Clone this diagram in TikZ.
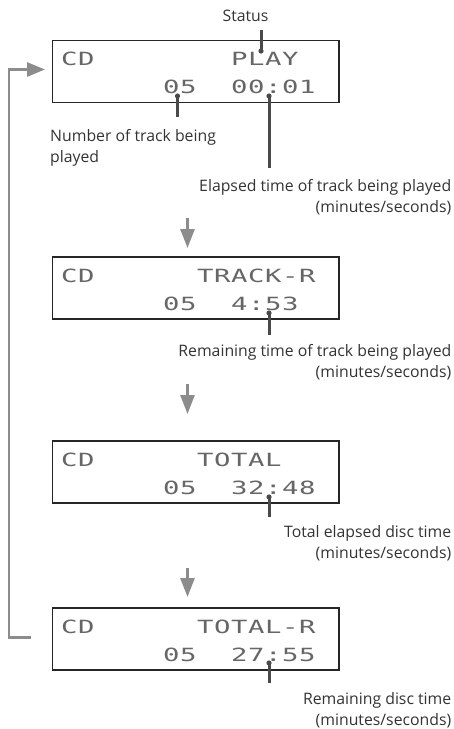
\documentclass[tikz,border=0pt]{standalone}
\usepackage{fontspec}
\usepackage{tikz}
\setmainfont{Open Sans}
\newfontfamily\lcdfont[FakeStretch=1.5]{DejaVu Sans Mono}
\usetikzlibrary{arrows.meta}

\definecolor{arrowgray}{HTML}{8C8C8C}
\definecolor{leadgray}{HTML}{4A4A4A}
\definecolor{lcdink}{HTML}{666666}

% one character per 17pt cell, like the dot matrix of the display
\makeatletter
\newcommand\lcdtext[1]{\@tfor\lcdch:=#1\do{\makebox[17pt][l]{\lcdch}}}
\makeatother

\begin{document}
\begin{tikzpicture}[x=1pt, y=-1pt,
    display/.style={draw=black!85, line width=1.3pt, minimum width=286.5pt, minimum height=62pt, inner sep=0pt},
    lcdrow/.style={anchor=base west, inner sep=0pt, font=\lcdfont\fontsize{18.2}{18.2}\selectfont, text=lcdink},
    note/.style={inner sep=0pt, font=\fontsize{15.8}{18}\selectfont, text=black!80},
    lead/.style={draw=leadgray, line width=3pt},
    leaddot/.style={fill=leadgray},
    flow/.style={draw=arrowgray, line width=2.7pt, -{Triangle[length=19pt,width=14pt]}},
    backarrow/.style={draw=arrowgray, line width=2.7pt, -{Triangle[length=18pt,width=14pt]}}
]
\useasboundingbox (0,0) rectangle (454,729);

% displays
\node[display] (d1) at (195.75,71.25) {};
\node[lcdrow] (d1cd) at (61,65.25) {\lcdtext{CD}};
\node[lcdrow] (d1st) at (231,65.25) {\lcdtext{PLAY}};
\node[lcdrow] (d1tr) at (163,93.25) {\lcdtext{05}};
\node[lcdrow] (d1tm) at (231,93.25) {\lcdtext{00:01}};

\node[display] (d2) at (195.75,288) {};
\node[lcdrow] (d2cd) at (61,282) {\lcdtext{CD}};
\node[lcdrow] (d2st) at (197,282) {\lcdtext{TRACK-R}};
\node[lcdrow] (d2tr) at (163,310) {\lcdtext{05}};
\node[lcdrow] (d2tm) at (231,310) {\lcdtext{4:53}};

\node[display] (d3) at (195.75,472) {};
\node[lcdrow] (d3cd) at (61,466) {\lcdtext{CD}};
\node[lcdrow] (d3st) at (197,466) {\lcdtext{TOTAL}};
\node[lcdrow] (d3tr) at (163,494) {\lcdtext{05}};
\node[lcdrow] (d3tm) at (231,494) {\lcdtext{32:48}};

\node[display] (d4) at (195.75,639) {};
\node[lcdrow] (d4cd) at (61,633) {\lcdtext{CD}};
\node[lcdrow] (d4st) at (197,633) {\lcdtext{TOTAL-R}};
\node[lcdrow] (d4tr) at (163,661) {\lcdtext{05}};
\node[lcdrow] (d4tm) at (231,661) {\lcdtext{27:55}};

% labels
\node[note, anchor=base] (status) at (245.5,21.7) {Status};
\node[note, anchor=base west] (num1) at (50,141) {Number of track being};
\node[note, anchor=base west] (num2) at (50,162) {played};
\node[note, anchor=base east] (ela1) at (451.5,191.5) {Elapsed time of track being played};
\node[note, anchor=base east] (ela2) at (451.5,212.5) {(minutes/seconds)};
\node[note, anchor=base east] (rem1) at (451.5,356) {Remaining time of track being played};
\node[note, anchor=base east] (rem2) at (451.5,377) {(minutes/seconds)};
\node[note, anchor=base east] (tot1) at (451.5,537.3) {Total elapsed disc time};
\node[note, anchor=base east] (tot2) at (451.5,558.3) {(minutes/seconds)};
\node[note, anchor=base east] (rmd1) at (451.5,704.3) {Remaining disc time};
\node[note, anchor=base east] (rmd2) at (451.5,725.3) {(minutes/seconds)};

% callouts
\coordinate (sdot) at (261,51);    \coordinate (send) at (261,30);
\coordinate (ndot) at (177.5,96);  \coordinate (nend) at (177.5,117);
\coordinate (edot) at (269,96);    \coordinate (eend) at (269,168);
\coordinate (rdot) at (269,313);   \coordinate (rend) at (269,335);
\coordinate (tdot) at (269,497);   \coordinate (tend) at (269,517);
\coordinate (qdot) at (269,663);   \coordinate (qend) at (269,683);
\draw[lead] (sdot) -- (send);
\draw[lead] (ndot) -- (nend);
\draw[lead] (edot) -- (eend);
\draw[lead] (rdot) -- (rend);
\draw[lead] (tdot) -- (tend);
\draw[lead] (qdot) -- (qend);
\fill[leaddot] (sdot) circle (2.6) (ndot) circle (2.6) (edot) circle (2.6)
  (rdot) circle (2.6) (tdot) circle (2.6) (qdot) circle (2.6);

% step arrows
\coordinate (a1s) at (187.5,218); \coordinate (a1e) at (187.5,248);
\coordinate (a2s) at (187.5,384); \coordinate (a2e) at (187.5,414);
\coordinate (a3s) at (187.5,568); \coordinate (a3e) at (187.5,597);
\draw[flow] (a1s) -- (a1e);
\draw[flow] (a2s) -- (a2e);
\draw[flow] (a3s) -- (a3e);

% back to the first display
\coordinate (lb) at (31,637.3);
\coordinate (lt) at (45,69.5);
\draw[backarrow] (lb) -- ++(-22,0) |- (lt);
\end{tikzpicture}
\end{document}
